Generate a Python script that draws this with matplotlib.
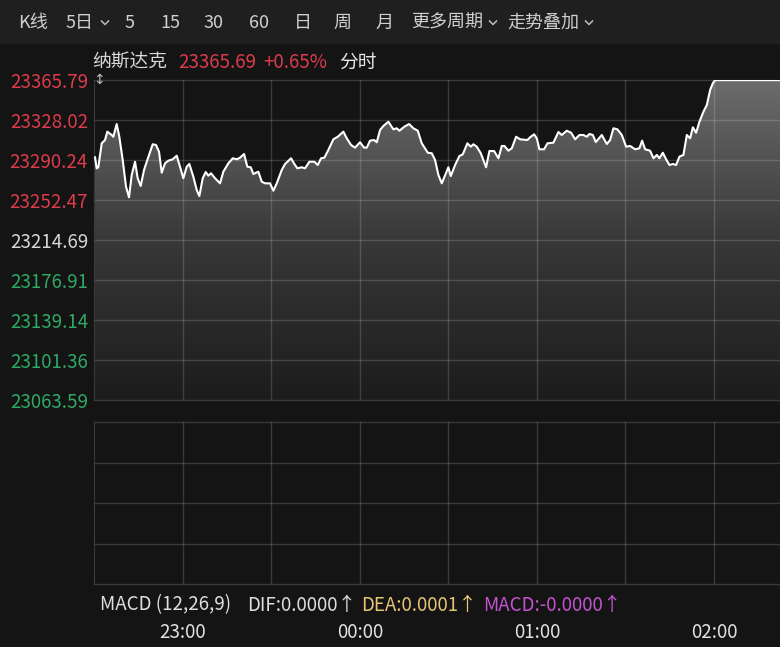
import numpy as np
import matplotlib.pyplot as plt
from matplotlib.lines import Line2D
from matplotlib.patches import Rectangle, Polygon
from matplotlib.colors import LinearSegmentedColormap

plt.rcParams['font.family'] = ['Noto Sans CJK SC', 'DejaVu Sans']

# minutes after 22:30, index level
times = [0.24, 0.81, 1.36, 2.51, 3.63, 4.41, 5.90, 6.44, 7.59, 8.48,
         9.63, 10.75, 11.76, 12.68, 13.80, 14.71, 15.73, 16.85, 17.97, 19.80,
         20.92, 21.93, 22.85, 23.97, 25.09, 26.58, 27.93, 29.05, 30.17, 31.32,
         32.21, 33.56, 34.71, 35.60, 36.75, 37.76, 38.65, 39.56, 40.92, 42.61,
         43.73, 45.43, 46.92, 48.27, 49.39, 50.75, 51.87, 53.02, 53.90, 55.60,
         56.75, 57.87, 59.56, 60.68, 61.83, 63.53, 64.65, 66.68, 67.80, 68.82,
         70.31, 71.43, 72.89, 74.58, 75.73, 76.85, 77.97, 79.33, 81.02, 82.51,
         84.41, 85.56, 87.02, 88.38, 90.07, 91.43, 92.34, 93.46, 94.82, 95.73,
         96.85, 97.97, 99.67, 101.36, 102.51, 103.40, 105.09, 106.68, 108.14, 109.63,
         110.99, 113.02, 114.38, 115.50, 116.62, 117.77, 120.00, 120.82, 122.28, 123.74,
         124.89, 126.44, 127.60, 128.48, 129.63, 130.99, 131.87, 132.79, 133.90, 135.50,
         136.96, 138.11, 139.00, 140.35, 141.50, 142.96, 144.32, 146.79, 147.70, 149.06,
         149.97, 150.86, 152.45, 153.57, 155.60, 157.30, 158.44, 160.14, 161.60, 162.96,
         164.42, 165.77, 166.92, 167.81, 168.96, 169.97, 172.01, 173.70, 174.82, 175.94,
         177.30, 178.79, 180.25, 181.60, 183.30, 184.75, 185.67, 186.68, 188.38, 189.50,
         190.65, 191.53, 192.69, 193.80, 194.93, 196.08, 197.20, 198.32, 199.67, 200.82,
         201.94, 202.86, 203.98, 205.10, 206.45, 207.60, 208.72, 209.63, 210.41, 232.40]
prices = [23292.8, 23282.4, 23283.35, 23306.0, 23309.1, 23317.0, 23313.85, 23312.2, 23324.2, 23312.2,
          23290.2, 23265.0, 23255.0, 23276.1, 23288.6, 23273.0, 23265.7, 23280.8, 23290.2, 23305.1,
          23304.4, 23298.1, 23278.25, 23287.1, 23289.6, 23290.9, 23294.3, 23283.9, 23273.0, 23283.9,
          23286.5, 23274.5, 23261.9, 23256.2, 23273.0, 23278.9, 23275.4, 23277.7, 23273.0, 23268.2,
          23279.2, 23287.1, 23291.85, 23290.9, 23292.4, 23295.9, 23283.9, 23283.35, 23277.0, 23279.2,
          23269.75, 23268.2, 23268.2, 23261.25, 23268.2, 23280.8, 23286.5, 23291.85, 23286.5, 23282.4,
          23283.35, 23282.4, 23288.6, 23288.6, 23285.5, 23291.85, 23292.4, 23299.7, 23309.8, 23312.2,
          23317.0, 23310.7, 23304.4, 23301.9, 23307.0, 23301.9, 23301.9, 23308.5, 23309.1, 23307.0,
          23318.6, 23322.35, 23326.4, 23319.2, 23320.2, 23317.9, 23321.7, 23324.2, 23320.2, 23317.9,
          23306.0, 23297.1, 23296.6, 23290.2, 23276.1, 23268.2, 23283.35, 23275.1, 23285.5, 23294.0,
          23295.6, 23306.0, 23302.8, 23305.1, 23302.8, 23296.6, 23290.2, 23283.35, 23298.7, 23298.7,
          23291.85, 23303.5, 23303.5, 23299.0, 23301.3, 23312.2, 23309.8, 23309.1, 23311.7, 23314.5,
          23310.7, 23300.35, 23300.35, 23306.0, 23306.6, 23316.7, 23313.85, 23317.9, 23316.0, 23309.8,
          23313.85, 23313.85, 23312.2, 23314.8, 23313.85, 23307.2, 23313.85, 23305.35, 23309.1, 23320.2,
          23319.2, 23313.85, 23302.8, 23303.5, 23300.35, 23301.3, 23308.5, 23300.35, 23299.0, 23291.85,
          23295.0, 23291.85, 23297.1, 23290.9, 23285.5, 23286.5, 23285.5, 23293.4, 23295.0, 23313.85,
          23310.7, 23321.1, 23316.0, 23326.4, 23335.85, 23342.2, 23356.35, 23362.7, 23365.69, 23365.69]

levels = [23365.79, 23328.02, 23290.24, 23252.47, 23214.69,
          23176.91, 23139.14, 23101.36, 23063.59]
level_labels = ['23365.79', '23328.02', '23290.24', '23252.47', '23214.69',
                '23176.91', '23139.14', '23101.36', '23063.59']
grid_times = [30, 60, 90, 120, 150, 180, 210]
tick_times = [30, 90, 150, 210]
tick_labels = ['23:00', '00:00', '01:00', '02:00']
menu = ['K线', '5日', '5', '15', '30', '60', '日', '周', '月', '更多周期', '走势叠加']

RED, GREEN, GREY = '#dc3b4b', '#2fa863', '#d6d6d6'
BG = '#141414'
GRID = (1, 1, 1, 0.16)

W, H = 780, 647
fig = plt.figure(figsize=(W / 100, H / 100), dpi=100, facecolor=BG)


def box(x0, y0, x1, y1):
    return [x0 / W, 1 - y1 / H, (x1 - x0) / W, (y1 - y0) / H]


def txt(x, y, s, color=GREY, size=13.5, ha='left'):
    fig.text(x / W, 1 - y / H, s, color=color, fontsize=size, ha=ha, va='center')


def chevron(x, y):
    xs = [(x - 3.5) / W, x / W, (x + 3.5) / W]
    ys = [1 - (y - 2) / H, 1 - (y + 1.5) / H, 1 - (y - 2) / H]
    fig.add_artist(Line2D(xs, ys, transform=fig.transFigure, color='#bdbdbd', lw=1.1))


# top menu bar
fig.add_artist(Rectangle((0, 1 - 43 / H), 1, 43 / H, transform=fig.transFigure,
                         color='#1f1f1f', zorder=0))
menu_x = [18, 66, 125, 160, 204, 249, 294, 333, 375, 411, 507]
for x, s in zip(menu_x, menu):
    txt(x, 23, s, color='#d0d0d0', size=13)
chevron(105, 23)
chevron(493, 23)
chevron(589, 23)

txt(92, 62, '纳斯达克', color='#d8d8d8')
txt(178, 62, '23365.69', color=RED)
txt(263, 62, '+0.65%', color=RED)
txt(339, 62, '分时', color='#e6e6e6')

# price panel
ax = fig.add_axes(box(94.3, 80, 780, 400))
ax.set_facecolor(BG)
x0, x1 = 0, 232.4
y0, y1 = levels[-1], levels[0]
cmap = LinearSegmentedColormap.from_list('fade', ['#1c1c1c', '#383838', '#6c6c6c'])
im = ax.imshow(np.linspace(0, 1, 256).reshape(-1, 1), extent=[x0, x1, y0, y1],
               origin='lower', cmap=cmap, aspect='auto', zorder=1)
verts = np.column_stack([times + [times[-1], times[0]], prices + [y0, y0]])
clip = Polygon(verts, closed=True, transform=ax.transData, fc='none', ec='none')
ax.add_patch(clip)
im.set_clip_path(clip)
ax.plot(times, prices, color='white', lw=1.5, zorder=3)
for v in levels:
    ax.axhline(v, color=GRID, lw=1, zorder=2, clip_on=False)
for t in grid_times:
    ax.axvline(t, color=GRID, lw=1, zorder=2)
ax.set_xlim(x0, x1)
ax.set_ylim(y0, y1)
for s in ax.spines.values():
    s.set_visible(False)
ax.spines['left'].set_visible(True)
ax.spines['left'].set_color('#3a3a3a')
ax.set_xticks([])
ax.set_yticks(levels)
ax.set_yticklabels(level_labels)
ax.tick_params(axis='y', length=0, pad=4.5, labelsize=13.5)
for i, lab in enumerate(ax.get_yticklabels()):
    lab.set_color(RED if i < 4 else (GREY if i == 4 else GREEN))
ax.text(-0.4, y1, '↕', color='#bbbbbb', fontsize=10, ha='left', va='center',
        family='DejaVu Sans', zorder=5)

# MACD panel
mx = fig.add_axes(box(94.3, 422, 780, 584))
mx.set_facecolor(BG)
mx.set_xlim(x0, x1)
mx.set_ylim(0, 4)
for v in [0, 1, 2, 3, 4]:
    mx.axhline(v, color=GRID, lw=1, clip_on=False)
for t in grid_times:
    mx.axvline(t, color=GRID, lw=1)
for s in mx.spines.values():
    s.set_visible(False)
mx.spines['left'].set_visible(True)
mx.spines['left'].set_color('#3a3a3a')
mx.set_yticks([])
mx.set_xticks(tick_times)
mx.set_xticklabels(tick_labels)
mx.tick_params(axis='x', length=0, pad=27, labelsize=13.5, labelcolor='#e2e2e2')
for lab in mx.get_xticklabels():
    lab.set_x(lab.get_position()[0])

txt(100, 605, 'MACD (12,26,9)', color='#dedede')
txt(247, 605, 'DIF:0.0000↑', color='#dedede')
txt(361, 605, 'DEA:0.0001↑', color='#e6c574')
txt(483, 605, 'MACD:-0.0000↑', color='#c552d0')

fig.savefig('out.png', dpi=100, facecolor=BG)
